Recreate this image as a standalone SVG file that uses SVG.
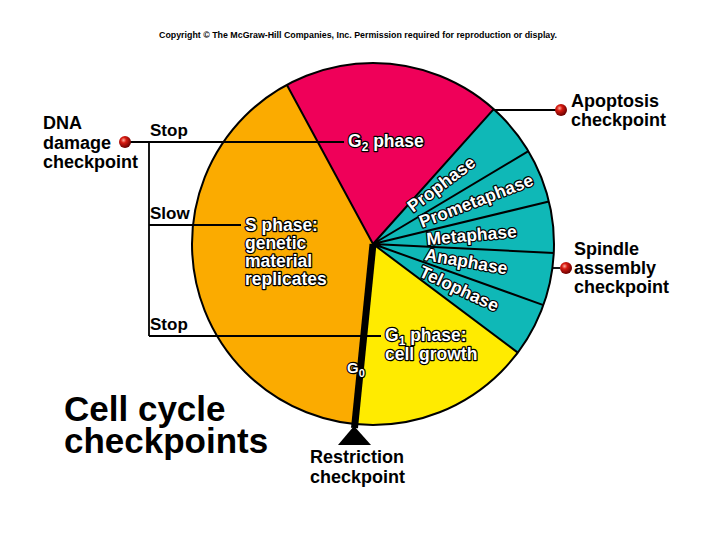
<svg xmlns="http://www.w3.org/2000/svg" width="720" height="540" viewBox="0 0 720 540">
<defs>
<radialGradient id="ball" cx="0.38" cy="0.35" r="0.65">
<stop offset="0" stop-color="#ffb0a0"/>
<stop offset="0.35" stop-color="#d81a10"/>
<stop offset="1" stop-color="#6a0000"/>
</radialGradient>
<style>
.lbl{font-family:"Liberation Sans",Arial,sans-serif;font-weight:bold;font-size:18px;fill:#000}
.in{font-family:"Liberation Sans",Arial,sans-serif;font-weight:bold;font-size:17.5px;fill:#fff;stroke:#000;stroke-width:2.4;stroke-linejoin:round;paint-order:stroke}
.mit{font-size:17.5px}
.edge{fill:none;stroke:#000;stroke-width:2}
.lead{fill:none;stroke:#000;stroke-width:1.8}
</style>
</defs>
<rect width="720" height="540" fill="#fff"/>
<text x="358" y="37.5" text-anchor="middle" textLength="398" lengthAdjust="spacingAndGlyphs" style="font-family:'Liberation Sans',Arial,sans-serif;font-weight:bold;font-size:9.5px;fill:#000">Copyright © The McGraw-Hill Companies, Inc. Permission required for reproduction or display.</text>
<g id="s-phase">
<path d="M373,244 L355.3,424.1 A181,181 0 0 1 286.8,84.8 Z" fill="#fbab00"/>
</g>
<g id="g2-phase">
<path d="M373,244 L286.8,84.8 A181,181 0 0 1 493.7,109.1 Z" fill="#ef0059"/>
</g>
<g id="m-phase">
<path d="M373,244 L493.7,109.1 A181,181 0 0 1 517.8,352.6 Z" fill="#0fb8b7"/>
</g>
<g id="g1-phase">
<path d="M373,244 L517.8,352.6 A181,181 0 0 1 355.3,424.1 Z" fill="#ffeb00"/>
</g>
<g id="connectors">
<path class="edge" d="M373,244 L286.8,84.8 M373,244 L493.7,109.1 M373,244 L528.4,151.2 M373,244 L548.9,201.5 M373,244 L553.8,253 M373,244 L543.4,305.1 M373,244 L517.8,352.6"/>
<circle cx="373" cy="244" r="181" class="edge"/>
<path d="M373,244 L354.5,428" stroke="#000" stroke-width="7" fill="none"/>
<polygon points="354,426 338,445 371,445" fill="#000"/>
<path class="lead" d="M130,142 H344 M149,142 V336 M149,225 H241 M149,336 H381"/>
<path class="lead" d="M493.7,110 H556"/>
<path class="lead" d="M552,268 H560"/>
</g>
<g id="dna-damage-checkpoint">
<circle cx="125" cy="142" r="6" fill="url(#ball)"/>
<text class="lbl" x="43" y="129">DNA</text>
<text class="lbl" x="43" y="149">damage</text>
<text class="lbl" x="43" y="168">checkpoint</text>
<text class="lbl" x="150" y="136" style="font-size:17px">Stop</text>
<text class="lbl" x="150" y="219" style="font-size:17px">Slow</text>
<text class="lbl" x="150" y="330" style="font-size:17px">Stop</text>
</g>
<g id="apoptosis-checkpoint">
<circle cx="561" cy="110" r="6" fill="url(#ball)"/>
<text class="lbl" x="571" y="107">Apoptosis</text>
<text class="lbl" x="571" y="126">checkpoint</text>
</g>
<g id="spindle-checkpoint">
<circle cx="566" cy="268" r="6" fill="url(#ball)"/>
<text class="lbl" x="574" y="255">Spindle</text>
<text class="lbl" x="574" y="274">assembly</text>
<text class="lbl" x="574" y="293">checkpoint</text>
</g>
<g id="restriction-checkpoint">
<text class="lbl" x="310" y="463">Restriction</text>
<text class="lbl" x="310" y="483">checkpoint</text>
</g>
<g id="title">
<text class="lbl" x="64" y="421" style="font-size:35px">Cell cycle</text>
<text class="lbl" x="64" y="453" style="font-size:35px">checkpoints</text>
</g>
<g id="labels">
<text class="in" x="348" y="147">G<tspan dy="4" font-size="12">2</tspan><tspan dy="-4"> phase</tspan></text>
<text class="in" x="245" y="231">S phase:</text>
<text class="in" x="245" y="249">genetic</text>
<text class="in" x="245" y="267">material</text>
<text class="in" x="245" y="285">replicates</text>
<text class="in" x="385" y="341">G<tspan dy="4" font-size="12">1</tspan><tspan dy="-4"> phase:</tspan></text>
<text class="in" x="385" y="360">cell growth</text>
<text class="in" x="347" y="373" style="font-size:15px">G<tspan dy="4" font-size="11">0</tspan></text>
<text class="in mit" transform="translate(413,213) rotate(-37)">Prophase</text>
<text class="in mit" transform="translate(422,228) rotate(-21)">Prometaphase</text>
<text class="in mit" transform="translate(427,245) rotate(-5)">Metaphase</text>
<text class="in mit" transform="translate(424,260) rotate(10)">Anaphase</text>
<text class="in mit" transform="translate(418,276) rotate(25)">Telophase</text>
</g>
</svg>
